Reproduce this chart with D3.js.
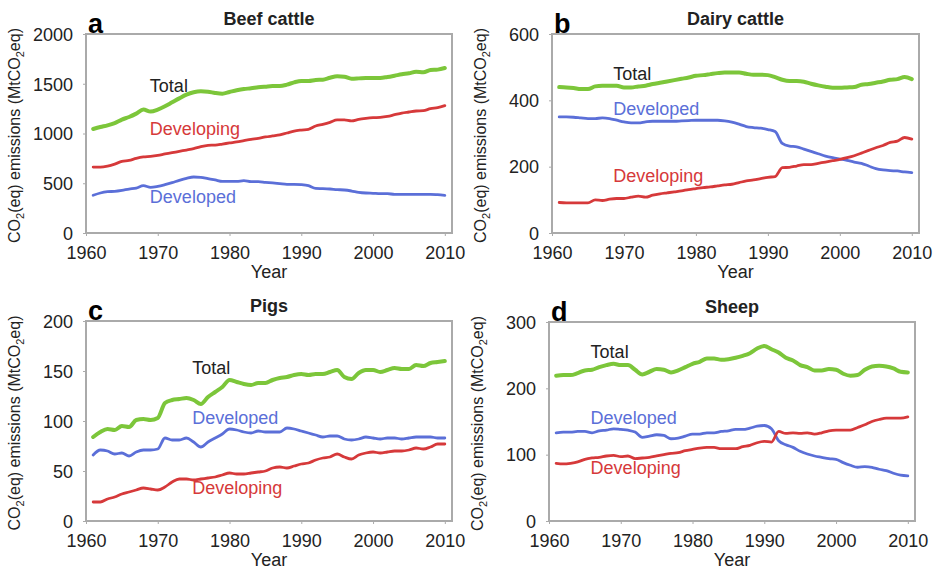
<!DOCTYPE html>
<html>
<head>
<meta charset="utf-8">
<script src="https://d3js.org/d3.v7.min.js"></script>
<style>
  body { margin: 0; background: #fff; }
  svg text { font-family: "Liberation Sans", Arial, sans-serif; fill: #222; }
  .frame { fill: none; stroke: #aaaaaa; stroke-width: 2; }
  .tick line { stroke: #aaaaaa; }
  .line { fill: none; stroke-linejoin: round; stroke-linecap: round; }
</style>
</head>
<body>
<script>
//years 1961-2010
var years = d3.range(1961, 2011);

//beef cattle (MtCO2eq)
var beefTotal = [1045,1065,1082,1105,1140,1166,1200,1240,1220,1240,1273,1313,1353,1390,1414,1424,1420,1407,1400,1417,
  1434,1447,1454,1464,1471,1477,1477,1491,1514,1528,1528,1538,1541,1561,1575,1571,1551,1554,1558,1558,
  1558,1568,1581,1595,1605,1621,1615,1638,1642,1658];
var beefDeveloping = [663,663,673,693,720,730,750,764,770,780,794,807,821,834,848,868,881,884,894,905,
  915,928,941,951,965,975,985,1005,1025,1035,1042,1075,1092,1112,1136,1136,1126,1142,1152,1159,
  1162,1172,1189,1206,1216,1226,1229,1250,1260,1280];
var beefDeveloped = [379,402,415,419,429,442,452,476,459,469,486,506,529,549,563,559,546,533,519,519,
  519,526,516,516,509,503,496,489,489,486,476,449,446,442,436,432,422,409,402,399,
  395,395,389,389,389,389,389,389,385,379];

//dairy cattle
var dairyTotal = [440,439,437,434,434,442,444,444,444,439,439,442,444,449,453,457,461,465,469,474,
  476,479,482,484,484,484,480,477,477,476,470,462,458,458,456,450,445,441,438,438,
  439,440,447,449,453,457,462,464,470,464];
var dairyDeveloped = [350,350,349,347,345,345,347,345,340,335,332,332,335,337,337,337,337,338,339,340,
  340,340,340,338,334,328,321,318,316,312,306,270,262,260,253,246,239,232,227,223,
  219,214,210,202,194,190,188,187,184,182];
var dairyDeveloping = [92,91,91,91,91,100,98,102,104,104,108,111,108,114,118,121,124,127,131,134,
  137,139,142,145,147,152,157,160,164,168,170,197,198,202,206,206,210,214,218,222,
  227,233,241,249,257,264,273,277,288,283];

//pigs
var pigsTotal = [84,89,92,91,95,94,101,102,101,103,118,121,122,123,121,117,124,129,134,141,
  139,137,136,138,138,141,143,144,146,147,146,147,147,149,151,144,142,148,151,151,
  149,151,153,152,152,156,155,158,159,160];
var pigsDeveloped = [66,71,70,67,68,65,69,71,71,72,83,81,81,83,79,74,79,83,87,92,
  91,89,88,90,89,89,89,93,92,90,88,86,84,85,85,82,81,82,84,83,
  82,83,83,82,83,84,84,84,83,83];
var pigsDeveloping = [19,19,22,24,27,29,31,33,32,31,34,39,42,42,41,42,43,44,46,48,
  47,47,48,49,50,53,54,53,55,57,58,61,63,64,67,64,62,66,68,69,
  68,69,70,70,71,73,72,74,77,77];

//sheep
var sheepTotal = [219,220,220,223,227,228,232,235,237,235,235,228,221,225,229,228,224,227,232,237,
  240,245,245,243,244,246,249,253,260,264,259,254,246,242,235,232,227,227,229,228,
  222,219,220,228,233,234,233,230,225,224];
var sheepDeveloped = [133,134,134,135,135,133,136,137,139,138,137,134,126,128,130,129,124,125,128,131,
  131,133,133,135,136,138,138,140,143,144,139,121,115,111,105,101,98,96,94,93,
  88,84,81,82,81,78,76,72,69,68];
var sheepDeveloping = [87,86,87,89,93,95,96,98,99,97,98,94,95,96,98,100,102,103,106,108,
  110,111,111,109,109,109,112,114,118,120,119,135,132,133,132,133,131,133,136,137,
  137,137,141,145,150,153,155,155,155,157];

//tick labels
var yearTicks = [1960, 1970, 1980, 1990, 2000, 2010];
var beefTicks = [0, 500, 1000, 1500, 2000];
var dairyTicks = [0, 200, 400, 600];
var pigsTicks = [0, 50, 100, 150, 200];
var sheepTicks = [0, 100, 200, 300];

var colors = { total: '#7cc63a', developing: '#d6393a', developed: '#5b6fd8' };

//panel layout: plot box and label anchors (label anchors in data units)
var panels = [
  { letter: 'a', title: 'Beef cattle', left: 86, top: 34, width: 366, height: 199, ymax: 2000, ticks: beefTicks,
    total: beefTotal, developing: beefDeveloping, developed: beefDeveloped,
    labels: { total: [1968.9, 1417], developing: [1968.9, 985], developed: [1968.9, 302] } },
  { letter: 'b', title: 'Dairy cattle', left: 552, top: 34, width: 367, height: 199, ymax: 600, ticks: dairyTicks,
    total: dairyTotal, developing: dairyDeveloping, developed: dairyDeveloped,
    labels: { total: [1968.5, 461], developing: [1968.5, 154], developed: [1968.5, 356] } },
  { letter: 'c', title: 'Pigs', left: 86, top: 321, width: 366, height: 200, ymax: 200, ticks: pigsTicks,
    total: pigsTotal, developing: pigsDeveloping, developed: pigsDeveloped,
    labels: { total: [1974.8, 147], developing: [1974.8, 27], developed: [1974.8, 97] } },
  { letter: 'd', title: 'Sheep', left: 549, top: 322, width: 366, height: 199, ymax: 300, ticks: sheepTicks,
    total: sheepTotal, developing: sheepDeveloping, developed: sheepDeveloped,
    labels: { total: [1965.8, 246], developing: [1965.8, 71], developed: [1965.8, 146] } }
];

var svg = d3.select('body')
    .append('svg')
    .attr('width', 937)
    .attr('height', 570);

panels.forEach(drawPanel);

function drawPanel(p) {
  var g = svg.append('g').attr('transform', 'translate(' + p.left + ',' + p.top + ')');

  var x = d3.scaleLinear().domain([1960, 2011]).range([0, p.width]);
  var y = d3.scaleLinear().domain([0, p.ymax]).range([p.height, 0]);

  //axes
  var xAxis = g.append('g')
      .attr('transform', 'translate(0,' + p.height + ')')
      .call(d3.axisBottom(x).tickValues(yearTicks).tickFormat(d3.format('d')).tickSize(3).tickPadding(6));
  var yAxis = g.append('g')
      .call(d3.axisLeft(y).tickValues(p.ticks).tickFormat(d3.format('d')).tickSize(3).tickPadding(10));
  [xAxis, yAxis].forEach(function(a) {
    a.select('.domain').remove();
    a.selectAll('text').style('font-size', '18px').attr('fill', '#222');
  });
  xAxis.selectAll('text').attr('dy', '0.95em');
  yAxis.selectAll('text').attr('dy', '0.35em');

  //box
  g.append('rect')
      .attr('class', 'frame')
      .attr('width', p.width)
      .attr('height', p.height);

  //lines
  var line = d3.line()
      .x(function(d, i) { return x(years[i]); })
      .y(function(d) { return y(d); })
      .curve(d3.curveMonotoneX);

  [['developed', 2.8], ['developing', 2.8], ['total', 4]].forEach(function(s) {
    g.append('path')
        .datum(p[s[0]])
        .attr('class', 'line')
        .attr('stroke', colors[s[0]])
        .attr('stroke-width', s[1])
        .attr('d', line);
  });

  //series labels
  var names = { total: 'Total', developing: 'Developing', developed: 'Developed' };
  Object.keys(names).forEach(function(k) {
    g.append('text')
        .attr('x', x(p.labels[k][0]))
        .attr('y', y(p.labels[k][1]))
        .style('font-size', '18px')
        .style('fill', k === 'total' ? '#222' : colors[k])
        .text(names[k]);
  });

  //title and panel letter
  g.append('text')
      .attr('x', p.width / 2)
      .attr('y', -9)
      .attr('text-anchor', 'middle')
      .style('font-size', '18px')
      .style('font-weight', 'bold')
      .text(p.title);
  g.append('text')
      .attr('x', 2)
      .attr('y', -1)
      .style('font-size', '27px')
      .style('font-weight', 'bold')
      .style('fill', '#000')
      .text(p.letter);

  //axis titles
  g.append('text')
      .attr('x', p.width / 2)
      .attr('y', p.height + 45)
      .attr('text-anchor', 'middle')
      .style('font-size', '18px')
      .text('Year');

  var yl = g.append('text')
      .attr('transform', 'translate(-66,' + (p.height / 2 + 2) + ') rotate(-90)')
      .attr('text-anchor', 'middle')
      .style('font-size', '16px');
  yl.append('tspan').text('CO');
  yl.append('tspan').attr('dy', 4).style('font-size', '11px').text('2');
  yl.append('tspan').attr('dy', -4).text('(eq) emissions (MtCO');
  yl.append('tspan').attr('dy', 4).style('font-size', '11px').text('2');
  yl.append('tspan').attr('dy', -4).text('eq)');
}
</script>
</body>
</html>
